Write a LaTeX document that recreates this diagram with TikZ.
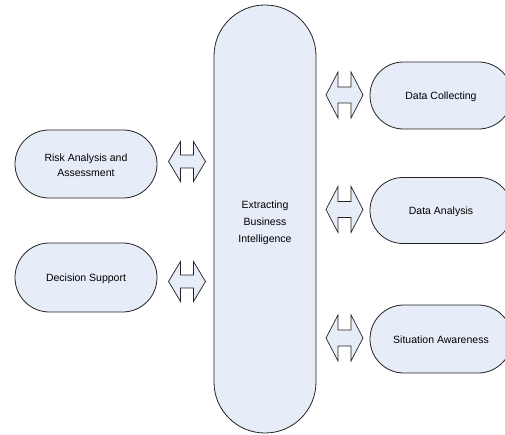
\documentclass[tikz,border=0pt]{standalone}
\usepackage{fontspec}
\setmainfont{Liberation Sans}
\usetikzlibrary{calc}
\definecolor{boxfill}{RGB}{230,236,248}
\definecolor{boxline}{RGB}{35,35,35}
% double-headed block arrow centred at a named coordinate
% #1 name, #2 x, #3 y, #4 half length, #5 half height, #6 half shaft, #7 head length
\newcommand{\blockarrow}[7]{%
  \coordinate (#1) at (#2,#3);
  \begin{scope}[shift={(#1)}]
    \draw[arrowbody] (-#4,0) -- (-#4+#7,-#5) -- (-#4+#7,-#6) -- (#4-#7,-#6)
      -- (#4-#7,-#5) -- (#4,0) -- (#4-#7,#5) -- (#4-#7,#6) -- (-#4+#7,#6)
      -- (-#4+#7,#5) -- cycle;
  \end{scope}}
% centred lines of text, lowered a little inside their shape (box size kept)
\newcommand{\lines}[2]{\raisebox{-#1}[\height][\depth]{\begin{tabular}{@{}c@{}}#2\end{tabular}}}
\tikzset{
  pill/.style={draw=boxline, fill=boxfill, line width=0.8pt,
    minimum width=142pt, inner sep=0pt,
    font=\fontsize{10.5}{15}\selectfont},
  arrowbody/.style={draw=boxline, fill=boxfill, line width=0.7pt, line join=miter},
}
\begin{document}
\begin{tikzpicture}[x=1pt, y=-1pt]
  \useasboundingbox (0,0) rectangle (505,435);

  % central process
  \node[pill, minimum width=102pt, minimum height=428pt, rounded corners=50.9pt,
        font=\fontsize{10.5}{17}\selectfont] (ebi) at (265,219)
        {\lines{3pt}{Extracting\\Business\\Intelligence}};

  % left-hand outputs
  \node[pill, minimum height=68pt, rounded corners=33.9pt] (risk) at (86,164)
        {\lines{2pt}{Risk Analysis and\\Assessment}};
  \node[pill, minimum height=69pt, rounded corners=34.4pt] (dec) at (86,277.5)
        {\lines{1pt}{Decision Support}};

  % right-hand inputs
  \node[pill, minimum height=67pt, rounded corners=33.4pt] (coll) at (441,95.5)
        {\lines{1.5pt}{Data Collecting}};
  \node[pill, minimum height=66pt, rounded corners=32.9pt] (anal) at (441,210.5)
        {\lines{1.5pt}{Data Analysis}};
  \node[pill, minimum height=68pt, rounded corners=33.9pt] (sit) at (441,339)
        {\lines{1.5pt}{Situation Awareness}};

  % two-way exchanges with the central process
  \blockarrow{a1}{187}{161.5}{18.5}{20}{6.5}{12}
  \blockarrow{a2}{187}{281.5}{18.5}{20}{6.5}{12}
  \blockarrow{a3}{344.5}{95}{18.5}{23}{8}{12}
  \blockarrow{a4}{344.5}{209.5}{18.5}{23}{8}{12}
  \blockarrow{a5}{344.5}{338}{18.5}{23}{8}{12}
\end{tikzpicture}
\end{document}
